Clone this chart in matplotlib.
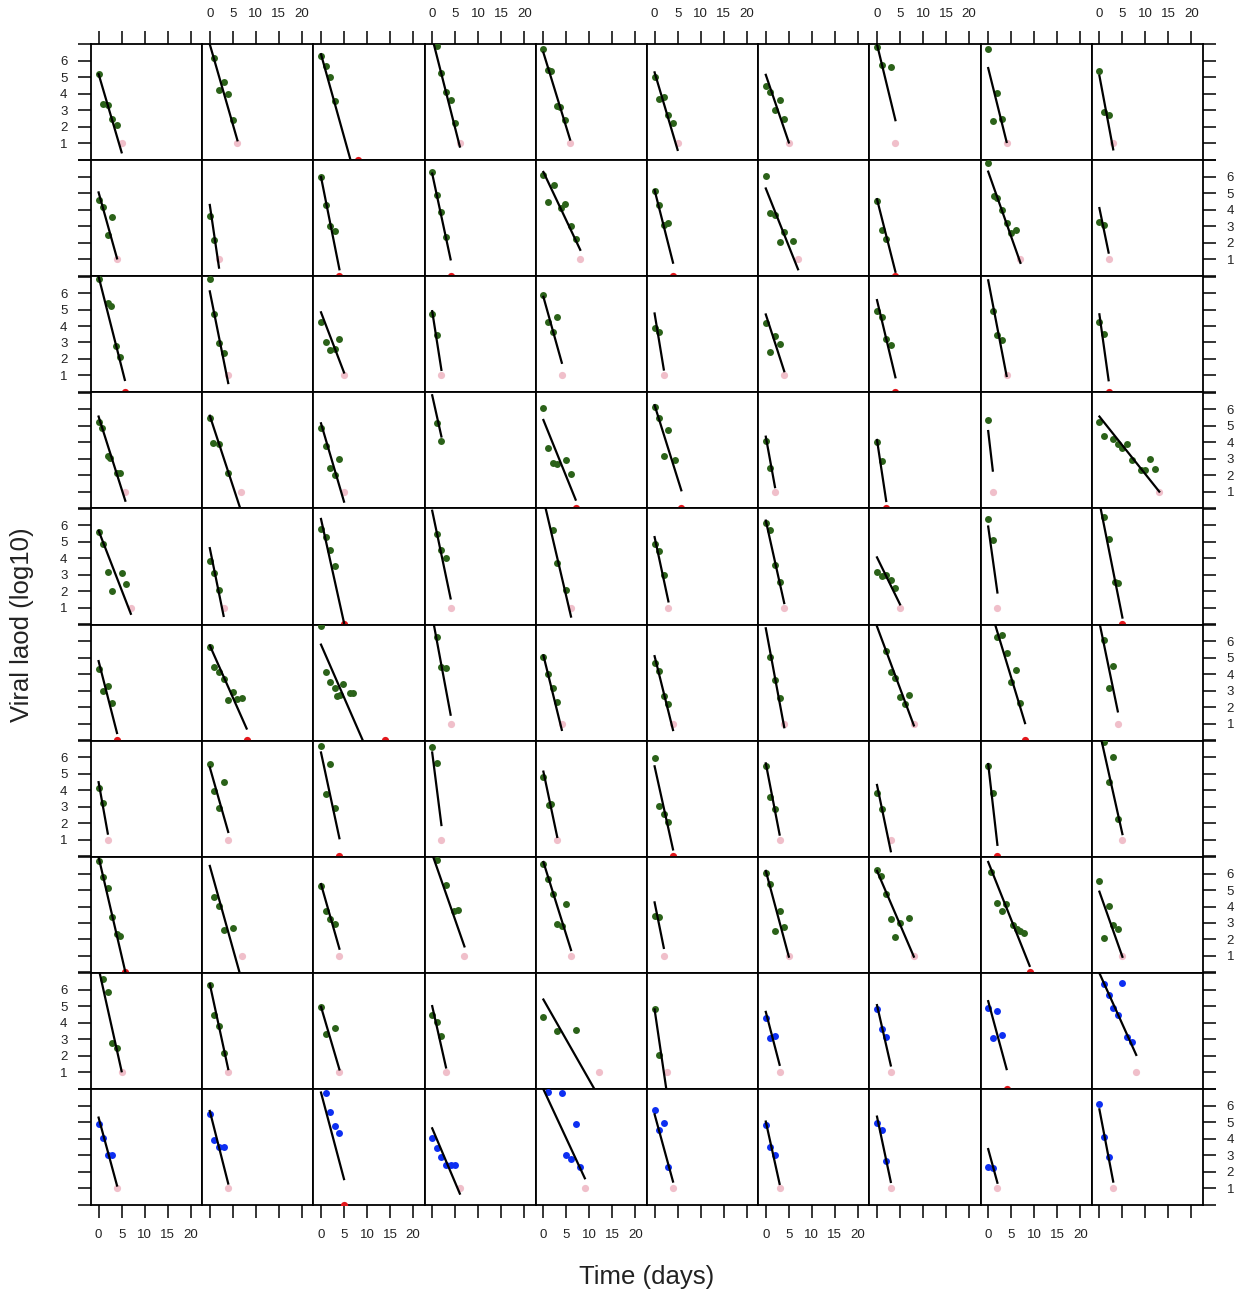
import matplotlib
matplotlib.use("Agg")
import matplotlib.pyplot as plt
import numpy as np

plt.rcParams['font.family'] = ['Liberation Sans', 'DejaVu Sans']

# one entry per subject, panels read row by row from top-left
times = [
    [0, 1, 2, 3, 4], [1, 2, 3, 4, 5], [0, 1, 2, 3], [1, 2, 3, 4, 5], [0, 1, 1.6, 3, 3.7, 4.8],
    [0, 1, 2, 3, 4], [0, 1, 2, 3, 4], [0, 1, 3], [0, 1, 2, 3], [0, 1, 2],
    [0, 1, 2, 3], [0, 1], [0, 1, 2, 3], [0, 1, 2, 3], [0, 1, 2.3, 3.8, 4.6, 6, 7],
    [0, 1, 2, 3], [0, 1, 2, 3, 4, 6], [0, 1, 2], [0, 1.3, 2, 3, 4, 5, 6], [0, 1],
    [0, 2, 2.7, 3.8, 4.6], [0, 1, 2, 3], [0, 1, 2, 3, 4], [0, 1], [0, 1, 2, 3],
    [0, 1], [0, 1, 2, 3], [0, 1, 2, 3], [1, 2, 3], [0, 1],
    [0, 0.7, 2, 2.5, 4, 4.6], [0, 0.8, 2, 4], [0, 1, 2, 3, 4], [1, 2], [0, 1, 2, 3, 5, 6],
    [0, 1, 2, 3, 4.5], [0, 1], [0, 1], [0], [0, 1, 3, 4, 5, 6, 7, 9, 10, 11, 12],
    [0, 1, 2, 3, 5, 6], [0, 1, 2], [0, 1, 2, 3], [1, 2, 3], [2, 3, 5],
    [0, 1, 2], [0, 1, 2, 3], [0, 1, 2, 3, 4], [0, 1], [1, 2, 3.3, 4],
    [0, 1, 2, 3], [0, 1, 2, 3, 4, 5, 6, 7], [0, 1, 2, 3, 3.5, 4.2, 4.7, 6.3, 7], [1, 2, 3], [0, 1, 2, 3],
    [0, 1, 2, 3], [1, 2, 3], [2, 3, 4, 5, 6, 7], [2, 3, 4, 5, 6, 7], [1, 2, 3],
    [0, 1], [0, 1, 2, 3], [0, 1, 2, 3], [0, 1], [0, 1.3, 1.7],
    [0, 1, 2, 3], [0, 1, 2], [0, 1], [0, 1], [1, 2, 3, 4],
    [0, 1, 2, 3, 4, 4.7], [1, 2, 3, 5], [0, 1, 2, 3], [1, 3, 4.7, 5.7], [0, 1, 2, 3, 4, 5],
    [0, 1], [0, 1, 2, 3, 4], [0, 0.8, 2, 3, 4, 5, 7], [0.7, 2, 2.9, 3.8, 5.4, 6.3, 7, 7.8], [0, 1, 2, 3, 4],
    [1, 2, 3, 4], [0, 1, 2, 3], [0, 1, 3], [0, 1, 2], [0, 3, 7],
    [0, 1], [0, 1, 2], [0, 1, 2], [0, 1, 2, 3], [1, 2, 3, 4, 5, 6, 7],
    [0, 1, 2, 3], [0, 1, 2, 3], [1, 2, 3, 4], [0, 1, 2, 3, 4, 5], [1, 4, 5, 6, 7, 8],
    [0, 1, 2, 3], [0, 1, 2], [0, 1, 2], [0, 1], [0, 1, 2],
]

loads = [
    [5.2, 3.4, 3.3, 2.5, 2.1], [6.15, 4.25, 4.7, 4.0, 2.4], [6.3, 5.7, 5.0, 3.55], [6.9, 5.25, 4.1, 3.6, 2.25], [6.72, 5.46, 5.36, 3.25, 3.21, 2.39],
    [5.0, 3.7, 3.8, 2.7, 2.2], [4.5, 4.1, 3.0, 3.65, 2.5], [6.86, 5.76, 5.62], [6.7, 2.35, 4.05, 2.5], [5.4, 2.9, 2.7],
    [4.6, 4.15, 2.45, 3.6], [3.66, 2.2], [6.0, 4.3, 3.0, 2.7], [6.28, 4.92, 3.85, 2.35], [6.1, 4.5, 5.5, 4.1, 4.35, 3.0, 2.25],
    [5.12, 4.27, 3.07, 3.21], [6.08, 3.8, 3.7, 2.05, 2.65, 2.1], [4.55, 2.77, 2.25], [6.82, 4.82, 4.71, 4.01, 3.21, 2.61, 2.77], [3.25, 3.11],
    [6.87, 5.37, 5.23, 2.76, 2.15], [6.87, 4.7, 2.96, 2.36], [4.22, 3.02, 2.56, 2.6, 3.22], [4.71, 3.46], [5.91, 4.22, 3.62, 4.56],
    [3.9, 3.66], [4.16, 2.41, 3.42, 2.92], [4.9, 4.52, 3.22, 2.82], [4.9, 3.46, 3.16], [4.27, 3.51],
    [5.2, 4.84, 3.13, 3.03, 2.12, 2.12], [5.45, 3.95, 3.9, 2.1], [4.84, 3.79, 2.43, 2.02, 2.97], [5.14, 4.07], [6.04, 3.63, 2.73, 2.67, 2.89, 2.08],
    [6.14, 5.44, 3.13, 4.73, 2.93], [4.07, 2.43], [3.99, 2.83], [5.34], [5.2, 4.35, 4.21, 3.91, 3.65, 3.91, 2.89, 2.29, 2.29, 2.95, 2.35],
    [5.6, 4.84, 3.17, 2.02, 3.11, 2.43], [3.83, 3.13, 2.06], [5.78, 5.28, 4.47, 3.51], [5.48, 4.51, 4.03], [5.68, 3.71, 2.1],
    [4.84, 4.41, 3.0], [6.14, 5.72, 3.57, 2.57], [3.15, 2.95, 2.97, 2.65, 2.2], [6.38, 5.08], [6.48, 5.18, 2.57, 2.47],
    [4.3, 2.98, 3.28, 2.24], [5.65, 4.44, 4.14, 3.74, 2.44, 2.94, 2.5, 2.54], [6.9, 4.14, 3.54, 3.18, 2.68, 2.72, 3.4, 2.88, 2.88], [6.29, 4.44, 4.4], [5.05, 4.04, 3.14, 2.34],
    [4.68, 4.18, 2.68, 2.17], [5.05, 3.64, 2.54], [5.39, 4.12, 3.78, 2.62, 2.21, 2.74], [6.25, 6.41, 5.29, 3.54, 4.24, 2.23], [6.05, 3.18, 4.5],
    [4.13, 3.23], [5.6, 3.99, 2.93, 4.53], [6.7, 3.79, 5.6, 2.93], [6.66, 5.66], [4.8, 3.09, 3.15],
    [5.94, 3.05, 2.55, 2.08], [5.5, 3.59, 2.85], [3.85, 2.85], [5.5, 3.85], [6.94, 4.53, 6.0, 2.24],
    [6.76, 5.76, 5.12, 3.35, 2.31, 2.24], [4.55, 4.05, 2.55, 2.69], [5.26, 3.75, 3.25, 2.95], [6.82, 5.3, 3.75, 3.81], [6.6, 5.66, 4.76, 2.95, 2.81, 4.15],
    [3.45, 3.39], [6.06, 5.36, 2.51, 3.75, 2.75], [6.22, 5.86, 4.76, 3.25, 2.14, 2.99, 3.31], [6.1, 4.19, 3.75, 4.15, 2.85, 2.65, 2.51, 2.41], [5.52, 2.08, 4.01, 2.89, 2.65],
    [6.66, 5.86, 2.79, 2.49], [6.3, 4.45, 3.79, 2.18], [4.94, 3.29, 3.65], [4.49, 4.05, 3.19], [4.33, 3.49, 3.55],
    [4.84, 2.04], [4.29, 3.09, 3.19], [4.8, 3.59, 3.13], [4.9, 3.09, 4.69, 3.25], [6.34, 5.66, 4.86, 4.49, 6.4, 3.13, 2.85],
    [4.88, 4.07, 3.03, 3.03], [5.48, 3.91, 3.47, 3.51], [6.78, 5.64, 4.78, 4.33], [4.07, 3.41, 2.87, 2.41, 2.41, 2.41], [6.82, 6.78, 3.03, 2.77, 4.92, 2.27],
    [5.72, 4.53, 4.94, 2.27], [4.82, 3.47, 3.01], [4.98, 4.53, 2.67], [2.31, 2.22], [6.12, 4.11, 2.91],
]

# first visit below detection: time and level (1 = below limit, 0 = undetectable)
cens_t = [
    5, 6, 8, 6, 5.8, 5, 5, 4, 4, 3,
    4, 2, 4, 4, 8, 4, 7, 4, 7, 2,
    5.7, 4, 5, 2, 4, 2, 4, 4, 4, 2,
    5.8, 6.8, 5, None, 7, 5.8, 2, 2, 1, 13,
    7, 3, 5, 4, 6, 3, 4, 5, 2, 5,
    4, 8, 13.9, 4, 4, 4, 4, 8, 8, 4,
    2, 4, 4, 2, 3, 4, 3, 3, 2, 5,
    5.8, 7, 4, 7, 6, 2, 5, 8, 9, 5,
    5, 4, 4, 3, 12, 2.8, 3, 3, 4, 8,
    4, 4, 5, 6, 9, 4, 3, 3, 2, 3,
]
cens_v = [
    1, 1, 0, 1, 1, 1, 1, 1, 1, 1,
    1, 1, 0, 0, 1, 0, 1, 0, 1, 1,
    0, 1, 1, 1, 1, 1, 1, 0, 1, 0,
    1, 1, 1, None, 0, 0, 1, 0, 1, 1,
    1, 1, 0, 1, 1, 1, 1, 1, 1, 0,
    0, 0, 0, 1, 1, 1, 1, 1, 0, 1,
    1, 1, 0, 1, 1, 0, 1, 1, 0, 1,
    0, 1, 1, 1, 1, 1, 1, 1, 0, 1,
    1, 1, 1, 1, 1, 1, 1, 1, 0, 1,
    1, 1, 0, 1, 1, 1, 1, 1, 1, 1,
]

# fitted decline per subject: intercept at day 0 and slope (log10 per day)
fit_a = [
    5.2, 7.0, 6.4, 7.4, 6.5, 5.3, 5.15, 7.0, 5.56, 5.1,
    5.06, 4.3, 6.0, 6.2, 6.3, 5.2, 5.3, 4.65, 6.32, 4.11,
    7.0, 6.1, 4.83, 4.9, 5.77, 4.76, 4.7, 5.57, 6.77, 4.71,
    5.55, 5.6, 5.14, 6.84, 5.34, 6.24, 4.33, 4.13, 4.67, 5.55,
    5.67, 4.61, 6.38, 6.88, 7.6, 5.28, 6.28, 4.05, 5.92, 7.4,
    4.8, 5.75, 5.8, 7.55, 5.15, 5.1, 6.79, 6.9, 8.4, 7.15,
    4.5, 5.4, 6.3, 6.3, 5.14, 5.46, 5.64, 4.33, 5.6, 7.6,
    7.0, 6.46, 5.36, 7.18, 6.7, 4.25, 6.16, 6.16, 6.7, 4.9,
    7.3, 6.34, 4.96, 5.0, 5.4, 4.8, 4.65, 5.06, 5.3, 7.0,
    5.28, 5.68, 6.8, 4.63, 7.0, 5.48, 5.04, 5.34, 3.37, 5.78,
]
fit_b = [
    -0.95, -0.97, -1.0, -1.1, -0.91, -0.94, -0.82, -1.15, -1.12, -1.49,
    -1.0, -1.9, -1.4, -1.3, -0.59, -1.1, -0.7, -1.1, -0.79, -1.35,
    -1.1, -1.39, -0.73, -1.78, -1.0, -1.7, -0.86, -1.17, -1.45, -2.0,
    -0.88, -0.85, -0.95, -1.25, -0.69, -0.89, -1.53, -1.85, -2.4, -0.35,
    -0.72, -1.37, -1.26, -1.33, -1.19, -1.3, -1.25, -0.57, -2.0, -1.4,
    -1.09, -0.63, -0.64, -1.5, -1.13, -1.12, -1.5, -0.75, -0.92, -1.35,
    -1.56, -0.98, -1.3, -2.2, -1.32, -1.26, -1.44, -1.34, -2.45, -1.25,
    -1.2, -1.0, -0.98, -0.8, -0.89, -1.38, -1.04, -0.65, -0.7, -0.79,
    -1.25, -1.29, -0.95, -1.24, -0.49, -1.9, -1.07, -1.22, -1.03, -0.62,
    -1.03, -1.1, -1.05, -0.66, -0.6, -1.02, -1.26, -1.32, -1.02, -1.46,
]

# treatment group per subject
group = ['A'] * 86 + ['B'] * 14

group_col = {'A': '#2b6219', 'B': '#0d2ff2'}
cens_col = {1: '#f0bfca', 0: '#e3161b'}

nrow, ncol = 10, 10
W, H = 1242, 1293
fig, axes = plt.subplots(nrow, ncol, figsize=(W / 100, H / 100), dpi=100,
                         gridspec_kw=dict(hspace=0, wspace=0))
fig.subplots_adjust(left=91 / W, right=1203 / W, top=1 - 44 / H, bottom=1 - 1205 / H)

for k in range(nrow * ncol):
    r, c = divmod(k, ncol)
    ax = axes[r, c]
    t = times[k]
    v = loads[k]
    ax.plot(t, v, 'o', ms=5.0, color=group_col[group[k]], mec='none', zorder=3)
    tmax = max(t)
    if cens_t[k] is not None:
        ax.plot([cens_t[k]], [cens_v[k]], 'o', ms=5.2, color=cens_col[cens_v[k]],
                mec='none', zorder=3)
        tmax = max(tmax, cens_t[k])
    tt = np.array([0, tmax])
    ax.plot(tt, fit_a[k] + fit_b[k] * tt, color='black', lw=1.6, zorder=4)

    ax.set_xlim(-1.65, 22.5)
    ax.set_ylim(-0.02, 7.02)
    ax.set_xticks([0, 5, 10, 15, 20])
    ax.set_yticks(range(8))
    ax.set_yticklabels(['', '1', '2', '3', '4', '5', '6', ''])
    for s in ax.spines.values():
        s.set_linewidth(1.3)
    ax.tick_params(axis='both', direction='out', length=9.5, width=1.1, pad=7.5,
                   labelsize=9.5, colors='black', labelcolor='#222222',
                   bottom=(r == nrow - 1), top=(r == 0),
                   labelbottom=(r == nrow - 1 and c % 2 == 0),
                   labeltop=(r == 0 and c % 2 == 1),
                   left=(c == 0), right=(c == ncol - 1),
                   labelleft=(c == 0 and r % 2 == 0),
                   labelright=(c == ncol - 1 and r % 2 == 1))

fig.text(22 / W, 1 - 625 / H, 'Viral laod (log10)', rotation=90,
         ha='center', va='center', fontsize=18.5, color='#222222')
fig.text(647 / W, 1 - 1277 / H, 'Time (days)', ha='center', va='center',
         fontsize=18.5, color='#222222')

fig.savefig('out.png', dpi=100)
